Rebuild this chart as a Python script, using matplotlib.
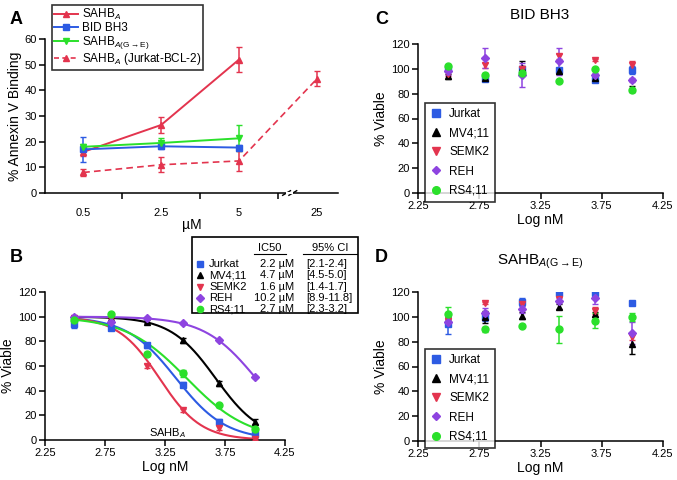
import numpy as np
import matplotlib
matplotlib.use("Agg")
import matplotlib.pyplot as plt
from matplotlib.lines import Line2D
from matplotlib.patches import Rectangle

plt.rcParams['font.family'] = ['Liberation Sans', 'DejaVu Sans']
plt.rcParams['mathtext.fontset'] = 'custom'
plt.rcParams['mathtext.rm'] = 'Liberation Sans'
plt.rcParams['mathtext.it'] = 'Liberation Sans:italic'
plt.rcParams['mathtext.default'] = 'regular'

RED = '#E3344E'
BLUE = '#2D5BE3'
GREEN = '#2BE02B'
PURPLE = '#8E44E0'
BLACK = '#000000'

# ---------------- Panel A data ----------------
a_cats = ['0.5', '2.5', '5', '25']
a_sahb = [16, 26.5, 52]
a_sahb_err = [1.5, 3, 5]
a_bid = [17, 18.2, 17.7]
a_bid_err = [5, 1, 1]
a_ge = [18, 19.5, 21.3]
a_ge_err = [1, 2, 5]
a_bcl2 = [8, 11, 12.5, 44.5]
a_bcl2_err = [1.5, 3, 4, 3]

# ---------------- Shared x (log nM) ----------------
doses_nM = [312.5, 625, 1250, 2500, 5000, 10000]
lines_names = ['Jurkat', 'MV4;11', 'SEMK2', 'REH', 'RS4;11']
colors = [BLUE, BLACK, RED, PURPLE, GREEN]
markers = ['s', '^', 'v', 'D', 'o']

# ---------------- Panel B data ----------------
b_vals = {
    'Jurkat': [94, 91, 77, 45, 15, 5],
    'MV4;11': [99, 98, 96, 81, 46, 15],
    'SEMK2': [99, 99, 60, 24, 10, 1],
    'REH': [100, 96, 99, 95, 81, 51],
    'RS4;11': [97, 102, 70, 54, 28, 9],
}
b_errs = {
    'Jurkat': [3, 2, 2, 2, 2, 2],
    'MV4;11': [1, 1, 1, 2, 2, 2],
    'SEMK2': [1, 1, 2, 1, 2, 1],
    'REH': [1, 1, 1, 1, 1, 1],
    'RS4;11': [3, 1, 1, 3, 1, 1],
}
b_ic50_uM = [2.2, 4.7, 1.6, 10.2, 2.7]
b_hill = [2.1, 2.3, 2.5, 2.0, 1.7]
b_ic50_txt = ['2.2 µM', '4.7 µM', '1.6 µM', '10.2 µM', '2.7 µM']
b_ci_txt = ['[2.1-2.4]', '[4.5-5.0]', '[1.4-1.7]', '[8.9-11.8]', '[2.3-3.2]']

# ---------------- Panel C data (BID BH3) ----------------
c_vals = {
    'Jurkat': [100, 92, 100, 99, 91, 99],
    'MV4;11': [94, 93, 101, 98, 93, 84],
    'SEMK2': [96, 103, 100, 110, 107, 103],
    'REH': [98, 109, 95, 106, 95, 91],
    'RS4;11': [102, 95, 97, 90, 100, 83],
}
c_errs = {
    'Jurkat': [2, 1, 2, 2, 2, 3],
    'MV4;11': [2, 1, 5, 2, 1, 2],
    'SEMK2': [2, 2, 2, 2, 1, 3],
    'REH': [3, 8, 10, 11, 2, 2],
    'RS4;11': [1, 2, 3, 1, 1, 1],
}

# ---------------- Panel D data (SAHB A(G->E)) ----------------
d_vals = {
    'Jurkat': [94, 100, 112, 119, 119, 111],
    'MV4;11': [98, 100, 101, 108, 102, 78],
    'SEMK2': [97, 111, 110, 114, 105, 84],
    'REH': [96, 103, 106, 113, 115, 87],
    'RS4;11': [102, 90, 93, 90, 97, 100],
}
d_errs = {
    'Jurkat': [8, 3, 3, 1, 1, 1],
    'MV4;11': [2, 5, 3, 2, 2, 8],
    'SEMK2': [2, 1, 3, 2, 3, 3],
    'REH': [2, 4, 3, 2, 5, 9],
    'RS4;11': [6, 2, 1, 11, 6, 3],
}

xlog = np.log10(doses_nM)

fig = plt.figure(figsize=(6.77, 4.8), dpi=100)

def style_axes(ax):
    for s in ['top', 'right']:
        ax.spines[s].set_visible(False)
    for s in ['left', 'bottom']:
        ax.spines[s].set_linewidth(1.1)
    ax.tick_params(direction='out', length=4, width=1.1, labelsize=8, pad=2)

# ---------------- Panel A ----------------
axA = fig.add_axes([45/677, 1-193/480, (338-45)/677, (193-39)/480])
style_axes(axA)
pos = np.arange(len(a_cats))
lab_sahb = r'SAHB$_{\mathit{A}}$'
lab_bid = 'BID BH3'
lab_ge = r'SAHB$_{\mathit{A}\mathrm{(G\rightarrow E)}}$'
lab_bcl2 = r'SAHB$_{\mathit{A}}$ (Jurkat-BCL-2)'
axA.errorbar(pos[:3], a_sahb, yerr=a_sahb_err, color=RED, marker='^', ms=4.5, lw=1.4, capsize=2.5, elinewidth=1.1)
axA.errorbar(pos[:3], a_bid, yerr=a_bid_err, color=BLUE, marker='s', ms=4, lw=1.4, capsize=2.5, elinewidth=1.1)
axA.errorbar(pos[:3], a_ge, yerr=a_ge_err, color=GREEN, marker='v', ms=4.5, lw=1.4, capsize=2.5, elinewidth=1.1)
axA.errorbar(pos, a_bcl2, yerr=a_bcl2_err, color=RED, marker='^', ms=4, lw=1.2, ls='--', dashes=(4, 2.5), capsize=2.5, elinewidth=1.1)
axA.set_xlim(-0.49, 3.27)
axA.set_ylim(0, 60)
axA.set_yticks([0, 10, 20, 30, 40, 50, 60])
axA.set_xticks([0.5, 1.5, 2.5])
axA.set_xticklabels([])
axA.set_xticks(pos, minor=True)
axA.set_xticklabels(a_cats, minor=True)
axA.tick_params(axis='x', which='minor', length=0, pad=11, labelsize=8)
axA.set_xlabel('µM', fontsize=10, labelpad=0)
axA.set_ylabel('% Annexin V Binding', fontsize=10, labelpad=2)
# axis break marks
for dx in (-0.04, 0.04):
    axA.plot([2.65 + dx - 0.05, 2.65 + dx + 0.05], [-0.9, 0.9], color='black', lw=1.0, clip_on=False)
axA.plot([2.62, 2.68], [0, 0], color='white', lw=1.5, clip_on=False, zorder=5)
hA = [
    Line2D([], [], color=RED, marker='^', ms=4.5, lw=1.4),
    Line2D([], [], color=BLUE, marker='s', ms=4, lw=1.4),
    Line2D([], [], color=GREEN, marker='v', ms=4.5, lw=1.4),
    Line2D([], [], color=RED, marker='^', ms=4, lw=1.2, ls='--', dashes=(3, 2)),
]
leg = axA.legend(hA, [lab_sahb, lab_bid, lab_ge, lab_bcl2], loc='upper left',
                 bbox_to_anchor=(52/677, 1-5/480), bbox_transform=fig.transFigure,
                 fontsize=8.5, frameon=True, fancybox=False, edgecolor='black', handlelength=2.0,
                 handletextpad=0.3, borderpad=0.2, labelspacing=0.0, borderaxespad=0)
leg.get_frame().set_linewidth(1.2)
fig.text(10/677, 1-20/480, 'A', fontsize=13, fontweight='bold', va='center')

# ---------------- Panel B ----------------
axB = fig.add_axes([45/677, 1-440/480, (285-45)/677, (440-292)/480])
style_axes(axB)
xfit = np.linspace(xlog[0] - 0.02, xlog[-1], 200)
for name, col, mk, ic, h in zip(lines_names, colors, markers, b_ic50_uM, b_hill):
    logic = np.log10(ic * 1000)
    yfit = 100 / (1 + 10 ** ((xfit - logic) * h))
    axB.plot(xfit, yfit, color=col, lw=1.5, zorder=2)
    axB.errorbar(xlog, b_vals[name], yerr=b_errs[name], fmt=mk, color=col, ms=5 if mk != 'D' else 4.2,
                 capsize=2, elinewidth=1, zorder=3)
axB.set_xlim(2.25, 4.25)
axB.set_ylim(0, 120)
axB.set_xticks([2.25, 2.75, 3.25, 3.75, 4.25])
axB.set_xticklabels(['2.25', '2.75', '3.25', '3.75', '4.25'])
axB.set_yticks([0, 20, 40, 60, 80, 100, 120])
axB.set_xlabel('Log nM', fontsize=10, labelpad=1)
axB.set_ylabel('% Viable', fontsize=10, labelpad=2)
axB.text(3.27, 6, r'SAHB$_{\mathit{A}}$', fontsize=8, ha='center', va='center')
fig.text(10/677, 1-257/480, 'B', fontsize=13, fontweight='bold', va='center')

# table legend
tab = fig.add_axes([192/677, 1-314/480, (358-192)/677, (314-237)/480])
tab.set_xlim(192, 358)
tab.set_ylim(314, 237)
tab.axis('off')
tab.add_patch(Rectangle((192.5, 237.5), 165, 76, fill=False, ec='black', lw=1.2, clip_on=False))
tab.text(270, 248, 'IC50', fontsize=8, ha='center', va='center')
tab.text(330, 248, '95% CI', fontsize=8, ha='center', va='center')
tab.plot([254, 286], [254, 254], color='black', lw=0.8)
tab.plot([303, 357], [254, 254], color='black', lw=0.8)
row_y = [264, 275.5, 287, 298, 309.5]
for yy, col, mk, name, ic, ci in zip(row_y, colors, markers, lines_names, b_ic50_txt, b_ci_txt):
    tab.plot([200], [yy], marker=mk, color=col, ms=4.5 if mk != 'D' else 3.8, ls='none')
    tab.text(209, yy, name, fontsize=8, ha='left', va='center')
    tab.text(294, yy, ic, fontsize=8, ha='right', va='center')
    tab.text(306, yy, ci, fontsize=8, ha='left', va='center')

# ---------------- Panels C and D ----------------
def scatter_panel(ax, vals, errs, leg_top_px):
    style_axes(ax)
    handles = []
    for name, col, mk in zip(lines_names, colors, markers):
        ax.errorbar(xlog, vals[name], yerr=errs[name], fmt=mk, color=col,
                    ms=5 if mk != 'D' else 4.2, capsize=2, elinewidth=1.1)
        handles.append(Line2D([], [], marker=mk, color=col, ls='none', ms=5.5 if mk != 'D' else 4.5))
    ax.set_xlim(2.25, 4.25)
    ax.set_ylim(0, 120)
    ax.set_xticks([2.25, 2.75, 3.25, 3.75, 4.25])
    ax.set_xticklabels(['2.25', '2.75', '3.25', '3.75', '4.25'])
    ax.set_yticks([0, 20, 40, 60, 80, 100, 120])
    ax.set_xlabel('Log nM', fontsize=10, labelpad=1)
    ax.set_ylabel('% Viable', fontsize=10, labelpad=2)
    lg = ax.legend(handles, lines_names, loc='upper left', bbox_to_anchor=(425/677, 1-leg_top_px/480),
                   bbox_transform=fig.transFigure, fontsize=8.5, frameon=True, fancybox=False,
                   edgecolor='black', handlelength=1.0, handletextpad=0.6, borderpad=0.45,
                   labelspacing=0.6, borderaxespad=0)
    lg.get_frame().set_linewidth(1.2)
    return ax

axC = fig.add_axes([418/677, 1-193/480, (663-418)/677, (193-44)/480])
scatter_panel(axC, c_vals, c_errs, 103)
fig.text(540/677, 1-15/480, 'BID BH3', fontsize=11, ha='center', va='center')
fig.text(375/677, 1-20/480, 'C', fontsize=13, fontweight='bold', va='center')

axD = fig.add_axes([418/677, 1-441/480, (663-418)/677, (441-292)/480])
scatter_panel(axD, d_vals, d_errs, 349)
fig.text(540/677, 1-262/480, r'SAHB$_{\mathit{A}\mathrm{(G\rightarrow E)}}$', fontsize=11, ha='center', va='center')
fig.text(375/677, 1-257/480, 'D', fontsize=13, fontweight='bold', va='center')

fig.savefig('out.png', dpi=100)
